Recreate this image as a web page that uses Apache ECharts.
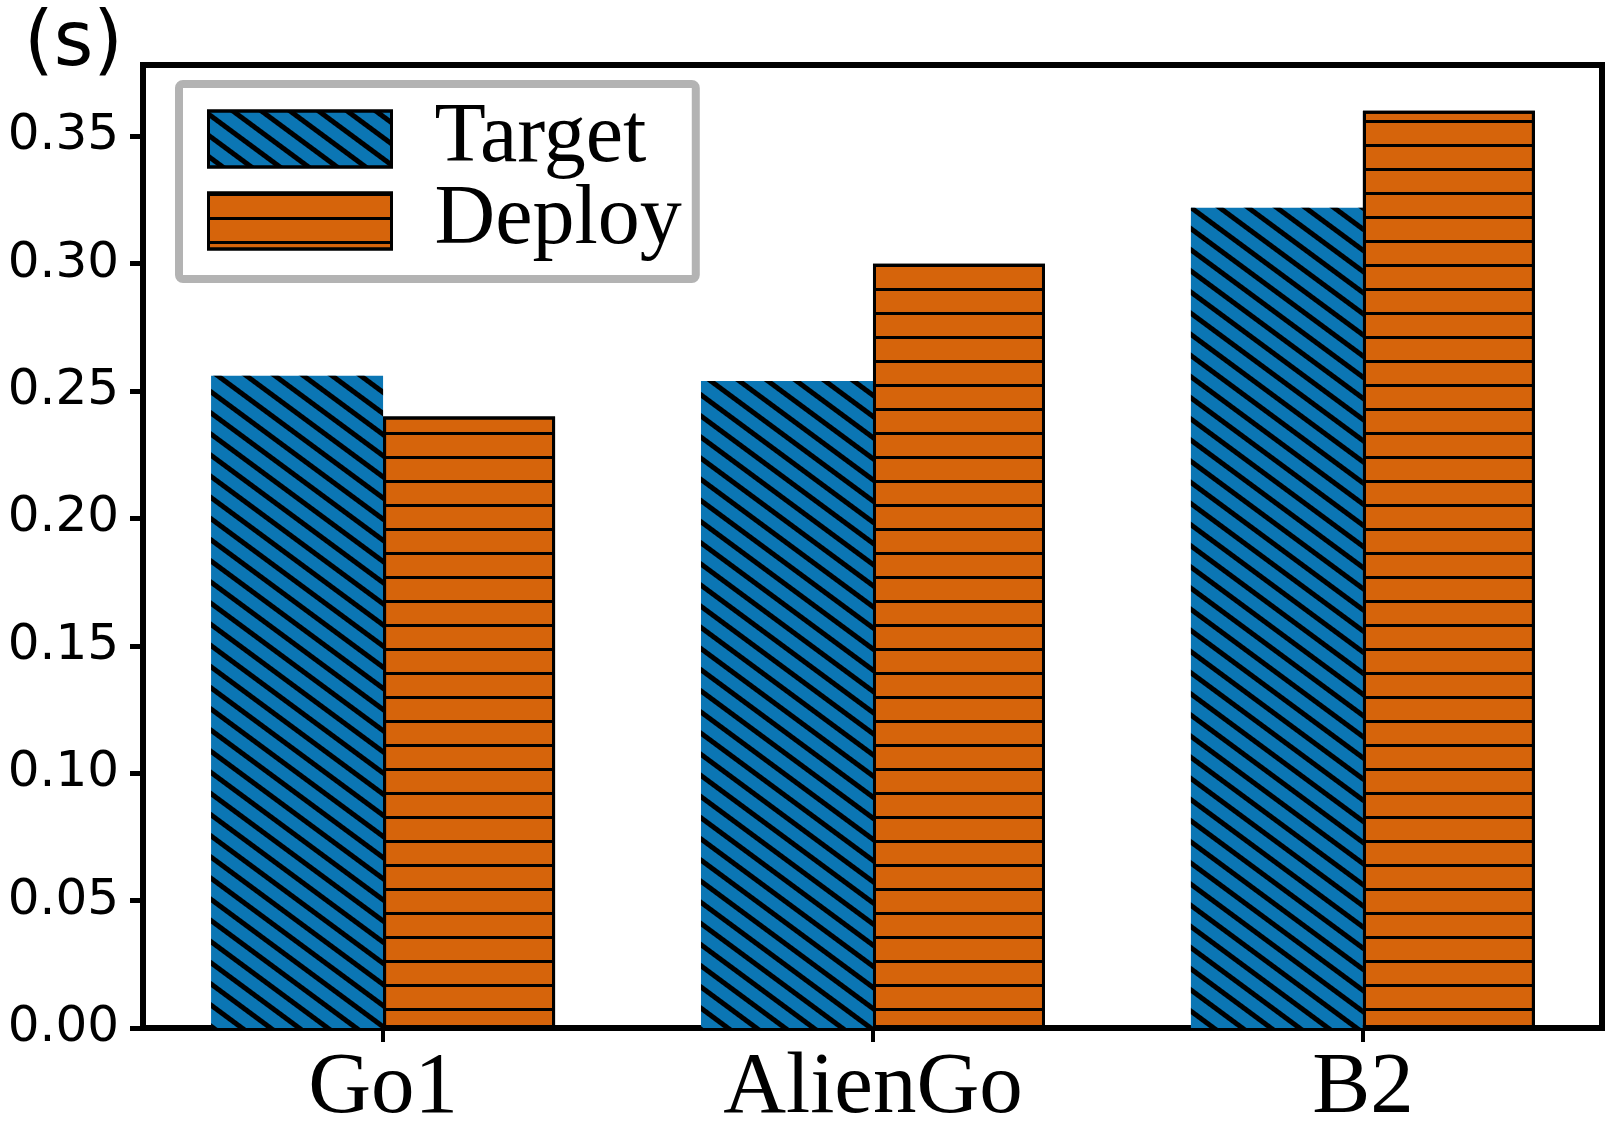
<!DOCTYPE html>
<html>
<head>
<meta charset="utf-8">
<script src="https://cdn.jsdelivr.net/npm/echarts@6/dist/echarts.min.js"></script>
<style>
  html, body { margin: 0; padding: 0; background: #fff; }
  #main { width: 1624px; height: 1124px; }
</style>
</head>
<body>
<div id="main"></div>
<script>
// robots on the x axis
var robots = ['Go1', 'AlienGo', 'B2'];
// time in seconds
var targetTime = [0.256, 0.254, 0.322];
var deployTime = [0.240, 0.300, 0.360];
var yTicks = [0, 0.05, 0.10, 0.15, 0.20, 0.25, 0.30, 0.35];
var xTicks = [0, 1, 2];

var blue = '#0b76b4';
var orange = '#d6640b';

var myChart = echarts.init(document.getElementById('main'));

var option = {
    animation: false,
    backgroundColor: '#fff',
    aria: { enabled: true, decal: { show: true } },
    title: {
        text: '(s)',
        left: 19,
        top: 2,
        textStyle: { fontFamily: 'DejaVu Sans', fontSize: 76, fontWeight: 'normal', color: '#000' }
    },
    grid: {
        left: 143, right: 22, top: 65, bottom: 96,
        outerBoundsMode: 'none',
        containLabel: false,
        show: true, borderColor: '#000', borderWidth: 6
    },
    legend: {
        orient: 'vertical',
        left: 179,
        top: 84,
        padding: [13, 14, 16, 28],
        itemWidth: 183,
        itemHeight: 56,
        itemGap: -2,
        icon: 'rect',
        backgroundColor: '#fff',
        borderColor: '#b3b3b3',
        borderWidth: 8,
        borderRadius: 4,
        textStyle: { fontFamily: 'Liberation Serif', fontSize: 84, color: '#000', padding: [0, 0, 0, 38] },
        data: [
            { name: 'Target', itemStyle: { borderColor: '#000', borderWidth: 3 } },
            { name: 'Deploy', itemStyle: { borderColor: '#000', borderWidth: 3 } }
        ]
    },
    xAxis: {
        type: 'value',
        min: -0.49,
        max: 2.488,
        splitLine: { show: false },
        axisLine: { show: true, onZero: false, lineStyle: { color: '#000', width: 6 } },
        axisTick: { show: true, customValues: xTicks, length: 14, lineStyle: { color: '#000', width: 4 } },
        axisLabel: {
            customValues: xTicks,
            fontFamily: 'Liberation Serif', fontSize: 87, color: '#000', margin: 18,
            formatter: function (v) { return robots[Math.round(v)]; }
        }
    },
    yAxis: {
        type: 'value',
        min: 0,
        max: 0.378,
        interval: 0.05,
        splitLine: { show: false },
        axisLine: { show: true, onZero: false, lineStyle: { color: '#000', width: 6 } },
        axisTick: { show: true, length: 13, lineStyle: { color: '#000', width: 5 } },
        axisLabel: {
            fontFamily: 'DejaVu Sans', fontSize: 50, color: '#000', margin: 24,
            showMaxLabel: false,
            formatter: function (v) {
                return yTicks.some(function (t) { return Math.abs(t - v) < 1e-6; }) ? v.toFixed(2) : '';
            }
        }
    },
    series: [
        {
            name: 'Target',
            type: 'bar',
            data: targetTime.map(function (v, i) { return [i, v]; }),
            barWidth: 172,
            barGap: '0%',
            itemStyle: {
                color: blue,
                decal: {
                    symbol: 'rect',
                    symbolSize: 1,
                    color: '#000',
                    dashArrayX: [1, 0],
                    dashArrayY: [5, 12],
                    rotation: 0.637
                }
            }
        },
        {
            name: 'Deploy',
            type: 'bar',
            data: deployTime.map(function (v, i) { return [i, v]; }),
            barWidth: 172,
            barGap: '0%',
            itemStyle: {
                color: orange,
                borderColor: '#000',
                borderWidth: 3,
                decal: {
                    symbol: 'rect',
                    symbolSize: 1,
                    color: '#000',
                    dashArrayX: [1, 0],
                    dashArrayY: [3, 21],
                    rotation: 0
                }
            }
        }
    ]
};

myChart.setOption(option);
</script>
</body>
</html>
